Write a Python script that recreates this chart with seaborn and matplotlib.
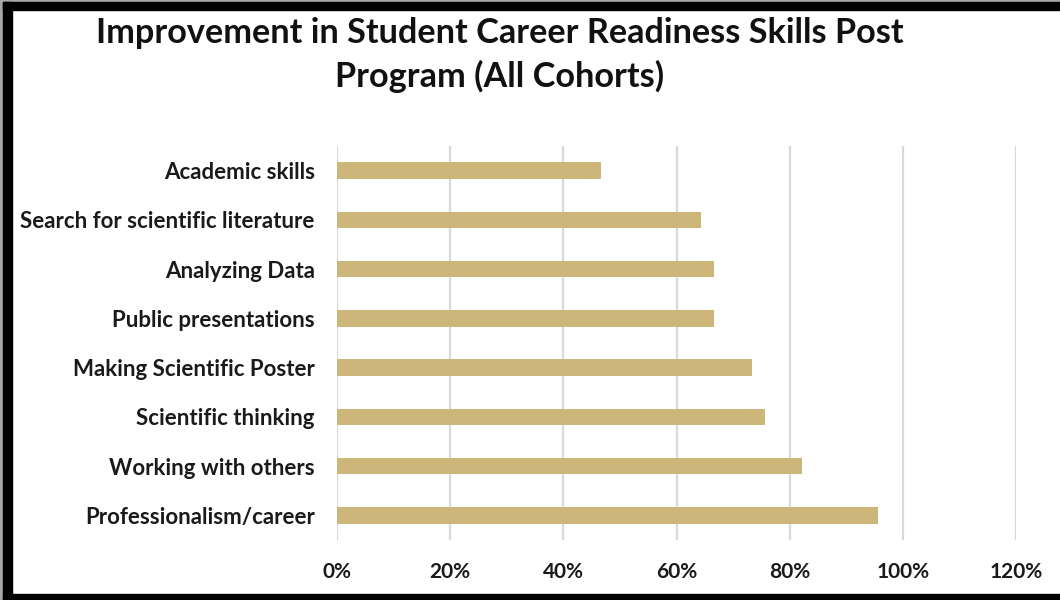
import matplotlib
matplotlib.use("Agg")
import matplotlib.pyplot as plt
import seaborn as sns
import pandas as pd
from matplotlib.patches import Rectangle
from matplotlib.ticker import PercentFormatter, MultipleLocator

# Share of students reporting improvement, per skill
skills = [
    "Academic skills",
    "Search for scientific literature",
    "Analyzing Data",
    "Public presentations",
    "Making Scientific Poster",
    "Scientific thinking",
    "Working with others",
    "Professionalism/career",
]
improved_pct = [46.7, 64.4, 66.7, 66.7, 73.3, 75.6, 82.2, 95.6]

title = "Improvement in Student Career Readiness Skills Post\nProgram (All Cohorts)"
bar_color = "#CDB679"

df = pd.DataFrame({"skill": skills, "pct": [v / 100 for v in improved_pct]})

sns.set_theme(style="white")
plt.rcParams["font.family"] = ["Lato", "DejaVu Sans"]

fig = plt.figure(figsize=(10.6, 6), dpi=100)
fig.patch.set_facecolor("white")

W, H = 1060, 600
ax = fig.add_axes([337 / W, 1 - 540 / H, (1016 - 337) / W, (540 - 146) / H])

sns.barplot(data=df, x="pct", y="skill", orient="h", color=bar_color,
            width=0.33, saturation=1, ax=ax, edgecolor="none")

ax.set_xlim(0, 1.2)
ax.xaxis.set_major_locator(MultipleLocator(0.2))
ax.xaxis.set_major_formatter(PercentFormatter(xmax=1, decimals=0))
ax.grid(axis="x", color="#D9D9D9", linewidth=1.6)
ax.set_axisbelow(True)
for s in ax.spines.values():
    s.set_visible(False)
ax.set_xlabel("")
ax.set_ylabel("")
ax.tick_params(axis="x", length=0, pad=16, labelsize=15, labelcolor="#1a1a1a")
ax.tick_params(axis="y", length=0, pad=16, labelsize=16, labelcolor="#1a1a1a")
for lab in ax.get_xticklabels() + ax.get_yticklabels():
    lab.set_fontweight("bold")

fig.text(500 / W, 1 - 55 / H, title, ha="center", va="center",
         fontsize=24.7, fontweight="bold", color="#111111", linespacing=1.4)

# Picture frame: grey outer rim and thick black border
def frect(x0, y0, x1, y1, color):
    fig.patches.append(Rectangle((x0 / W, 1 - y1 / H), (x1 - x0) / W, (y1 - y0) / H,
                                 transform=fig.transFigure, color=color, zorder=10))

frect(0, 0, W, 2, "#A8A6A6")
frect(0, 0, 3, H, "#A8A6A6")
frect(3, 2, W, 10, "#000000")
frect(3, 2, 12, H, "#000000")
frect(3, 594, W, H, "#000000")

fig.savefig("out.png", dpi=100)
